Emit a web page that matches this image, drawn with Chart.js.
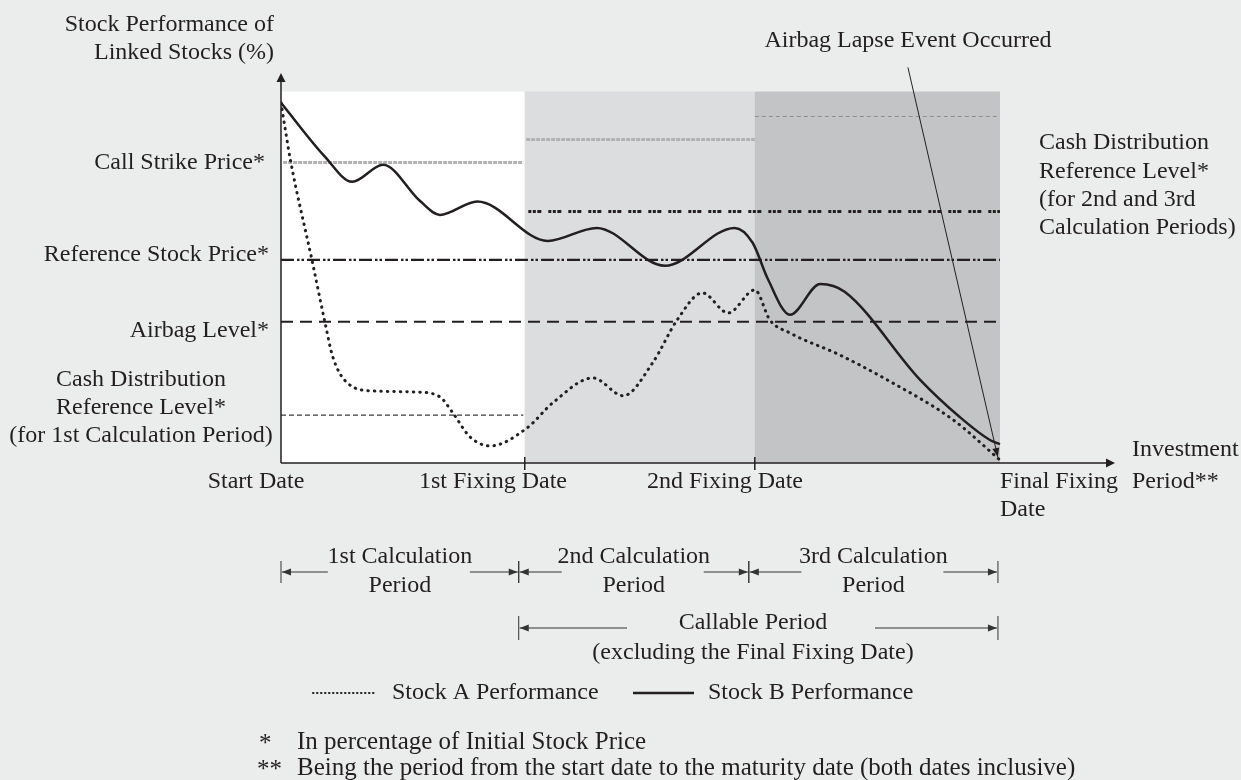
<!DOCTYPE html>
<html>
<head>
<meta charset="utf-8">
<script src="https://cdn.jsdelivr.net/npm/chart.js@4.4.1/dist/chart.umd.min.js"></script>
<style>
  body { margin: 0; background: #ebecec; }
  canvas { display: block; }
</style>
</head>
<body>
<canvas id="chart" width="1241" height="780"></canvas>
<script>
// time axis: start date, 1st fixing, 2nd fixing, final fixing
const periodDates = [0, 33.9, 65.9, 100];
const periodFills = ['#ffffff', '#dcdddf', '#c3c4c6'];

// stock B performance (solid)
const stockBX = [0, 6.1, 9.9, 14.2, 19.3, 22.1, 27.3, 37.1, 43.9, 53.4, 63.1, 65.6, 67.7, 70.8, 75.0, 78.4, 88.9, 94.4, 98.6, 100];
const stockBY = [97.0, 82.5, 75.7, 80.3, 70.6, 66.8, 70.4, 59.8, 63.3, 53.1, 63.3, 59.3, 49.6, 39.9, 48.2, 46.1, 22.4, 12.4, 6.2, 5.1];

// stock A performance (dotted)
const stockAX = [0, 1.3, 4.3, 6.1, 7.2, 9.2, 12.8, 18.9, 22.1, 23.9, 26.3, 29.1, 34.2, 37.8, 43.4, 47.6, 51.7, 55.1, 58.6, 62.2, 65.9, 68.0, 70.8, 77.7, 84.3, 93.5, 100];
const stockAY = [97.0, 81.7, 54.7, 38.0, 28.6, 21.6, 19.4, 19.1, 17.8, 13.5, 7.0, 4.6, 9.4, 16.2, 22.9, 18.1, 27.0, 38.5, 45.8, 40.4, 46.6, 38.5, 35.0, 29.1, 22.4, 11.6, 0.8];

// levels, % of initial stock price
const callStrike = [80.9, 87.1, 93.3];      // one per calculation period
const cashDist1 = 12.9;
const cashDist23 = 67.7;
const referencePrice = 54.7;
const airbagLevel = 38.0;

// airbag lapse pointer: from label to event
const lapseFrom = [87.2, 106.5];
const lapseTo = [99.7, 1.6];

const INK = '#231f20';
const FONT = '24px "Liberation Serif", "Times New Roman", serif';
const NOTE_FONT = '25px "Liberation Serif", "Times New Roman", serif';

function pts(xs, ys) {
    return xs.map((x, i) => ({x: x, y: ys[i]}));
}
function hline(a, b, v) {
    return [{x: a, y: v}, {x: b, y: v}];
}

function arrowHead(ctx, x, y, angle, len, half) {
    ctx.save();
    ctx.translate(x, y);
    ctx.rotate(angle);
    ctx.beginPath();
    ctx.moveTo(0, 0);
    ctx.lineTo(-len, -half);
    ctx.lineTo(-len, half);
    ctx.closePath();
    ctx.fill();
    ctx.restore();
}

function line(ctx, x0, y0, x1, y1) {
    ctx.beginPath();
    ctx.moveTo(x0, y0);
    ctx.lineTo(x1, y1);
    ctx.stroke();
}

const backdrop = {
    id: 'backdrop',
    beforeDraw(chart) {
        const ctx = chart.ctx;
        ctx.save();
        ctx.fillStyle = '#ebecec';
        ctx.fillRect(0, 0, chart.width, chart.height);
        ctx.restore();
    },
    beforeDatasetsDraw(chart) {
        const {ctx, scales: {x, y}} = chart;
        const top = y.getPixelForValue(100), bottom = y.getPixelForValue(0);
        ctx.save();
        for (let i = 0; i < 3; i++) {
            const x0 = x.getPixelForValue(periodDates[i]);
            const x1 = x.getPixelForValue(periodDates[i + 1]);
            ctx.fillStyle = periodFills[i];
            ctx.fillRect(x0, top, x1 - x0, bottom - top);
        }
        ctx.restore();
    }
};

const decorations = {
    id: 'decorations',
    afterDraw(chart) {
        const {ctx, chartArea, scales: {x, y}} = chart;
        const x0 = x.getPixelForValue(0), y0 = y.getPixelForValue(0);
        ctx.save();
        ctx.strokeStyle = INK;
        ctx.fillStyle = INK;

        // axes with arrows
        ctx.lineWidth = 1.5;
        line(ctx, x0, y0, x0, chartArea.top + 4);
        arrowHead(ctx, x0, chartArea.top, -Math.PI / 2, 9, 4.5);
        line(ctx, x0, y0, chartArea.right - 4, y0);
        arrowHead(ctx, chartArea.right, y0, 0, 9, 4.5);
        for (const d of periodDates.slice(1, 3)) {
            const px = x.getPixelForValue(d);
            line(ctx, px, y0 - 6, px, y0 + 7);
        }

        // airbag lapse pointer
        ctx.lineWidth = 1;
        const ax = x.getPixelForValue(lapseFrom[0]), ay = y.getPixelForValue(lapseFrom[1]);
        const bx = x.getPixelForValue(lapseTo[0]), by = y.getPixelForValue(lapseTo[1]);
        line(ctx, ax, ay, bx, by);
        arrowHead(ctx, bx, by, Math.atan2(by - ay, bx - ax), 9, 3.5);

        // text
        ctx.font = FONT;
        ctx.textBaseline = 'middle';
        const t = (s, px, py, align) => { ctx.textAlign = align; ctx.fillText(s, px, py); };

        t('Stock Performance of', 274, 25, 'right');
        t('Linked Stocks (%)', 274, 53, 'right');
        t('Call Strike Price*', 265, y.getPixelForValue(callStrike[0]), 'right');
        t('Reference Stock Price*', 269, y.getPixelForValue(referencePrice) - 5, 'right');
        t('Airbag Level*', 269, y.getPixelForValue(airbagLevel) + 9, 'right');
        t('Cash Distribution', 141, 380, 'center');
        t('Reference Level*', 141, 408, 'center');
        t('(for 1st Calculation Period)', 141, 436, 'center');

        t('Airbag Lapse Event Occurred', 908, 41, 'center');
        t('Cash Distribution', 1039, 143, 'left');
        t('Reference Level*', 1039, 172, 'left');
        t('(for 2nd and 3rd', 1039, 200, 'left');
        t('Calculation Periods)', 1039, 228, 'left');

        t('Start Date', 256, 482, 'center');
        t('1st Fixing Date', 493, 482, 'center');
        t('2nd Fixing Date', 725, 482, 'center');
        t('Final Fixing', 1000, 482, 'left');
        t('Date', 1000, 510, 'left');
        t('Investment', 1132, 450, 'left');
        t('Period**', 1132, 482, 'left');

        // calculation period brackets
        const bxs = periodDates.map((d, i) => x.getPixelForValue(d) + [0, -6, -6, -2][i]);
        const names = ['1st', '2nd', '3rd'];
        const rowY = 572;
        ctx.lineWidth = 1;
        ctx.strokeStyle = '#333';
        ctx.fillStyle = '#333';
        for (let i = 0; i < 3; i++) {
            const a = bxs[i], b = bxs[i + 1], c = (a + b) / 2;
            line(ctx, a, rowY - 11, a, rowY + 11);
            line(ctx, b, rowY - 11, b, rowY + 11);
            line(ctx, a + 1, rowY, c - 72, rowY);
            arrowHead(ctx, a + 1, rowY, Math.PI, 9, 3.5);
            line(ctx, c + 70, rowY, b - 1, rowY);
            arrowHead(ctx, b - 1, rowY, 0, 9, 3.5);
            ctx.fillStyle = INK;
            t(names[i] + ' Calculation', c, 557, 'center');
            t('Period', c, 586, 'center');
            ctx.fillStyle = '#333';
        }
        const callY = 628, ca = bxs[1], cb = bxs[3], cc = 753;
        line(ctx, ca, callY - 12, ca, callY + 12);
        line(ctx, cb, callY - 12, cb, callY + 12);
        line(ctx, ca + 1, callY, cc - 126, callY);
        arrowHead(ctx, ca + 1, callY, Math.PI, 9, 3.5);
        line(ctx, cc + 122, callY, cb - 1, callY);
        arrowHead(ctx, cb - 1, callY, 0, 9, 3.5);
        ctx.fillStyle = INK;
        t('Callable Period', cc, 623, 'center');
        t('(excluding the Final Fixing Date)', cc, 653, 'center');

        // legend
        const ly = 693;
        ctx.strokeStyle = INK;
        ctx.lineCap = 'round';
        ctx.lineWidth = 2;
        ctx.setLineDash([0.5, 3.5]);
        line(ctx, 313, ly, 376, ly);
        ctx.setLineDash([]);
        ctx.lineCap = 'butt';
        ctx.lineWidth = 2.5;
        line(ctx, 633, ly, 694, ly);
        t('Stock A Performance', 392, ly, 'left');
        t('Stock B Performance', 708, ly, 'left');

        // footnotes
        ctx.font = NOTE_FONT;
        t('*', 259, 744, 'left');
        t('In percentage of Initial Stock Price', 297, 742, 'left');
        t('**', 257, 770, 'left');
        t('Being the period from the start date to the maturity date (both dates inclusive)', 297, 768, 'left');
        ctx.restore();
    }
};

const flat = {pointRadius: 0, fill: false, borderColor: INK};

new Chart(document.getElementById('chart'), {
    type: 'line',
    data: {
        datasets: [
            {...flat, label: 'Stock B Performance', data: pts(stockBX, stockBY), borderWidth: 2.5, cubicInterpolationMode: 'monotone'},
            {...flat, label: 'Stock A Performance', data: pts(stockAX, stockAY), borderWidth: 3, borderDash: [0.5, 6], borderCapStyle: 'round', cubicInterpolationMode: 'monotone'},
            {...flat, label: 'Call Strike 1', data: hline(0.3, periodDates[1] - 0.2, callStrike[0]), borderColor: '#b2b2b2', borderWidth: 3, borderDash: [4, 1]},
            {...flat, label: 'Call Strike 2', data: hline(periodDates[1] + 0.2, periodDates[2], callStrike[1]), borderColor: '#b2b2b2', borderWidth: 3, borderDash: [4, 1]},
            {...flat, label: 'Call Strike 3', data: hline(periodDates[2], periodDates[3], callStrike[2]), borderColor: '#8f8f8f', borderWidth: 1, borderDash: [4, 3]},
            {...flat, label: 'Cash Distribution 2-3', data: hline(periodDates[1] + 0.5, periodDates[3], cashDist23), borderWidth: 3, borderDash: [3, 1.5, 3, 1.5, 4, 7]},
            {...flat, label: 'Reference Stock Price', data: hline(0, periodDates[3], referencePrice), borderWidth: 2.2, borderDash: [13, 3, 2.5, 2, 2.5, 3]},
            {...flat, label: 'Airbag Level', data: hline(0, periodDates[3], airbagLevel), borderWidth: 2, borderDash: [12, 7]},
            {...flat, label: 'Cash Distribution 1', data: hline(0, periodDates[1] - 0.2, cashDist1), borderColor: '#3a3a3a', borderWidth: 1.3, borderDash: [5, 3]}
        ]
    },
    options: {
        responsive: false,
        animation: false,
        layout: {padding: {left: 281, right: 126, top: 73, bottom: 317}},
        plugins: {legend: {display: false}, tooltip: {enabled: false}},
        scales: {
            x: {type: 'linear', min: 0, max: 116, display: false},
            y: {type: 'linear', min: 0, max: 105, display: false}
        }
    },
    plugins: [backdrop, decorations]
});
</script>
</body>
</html>
